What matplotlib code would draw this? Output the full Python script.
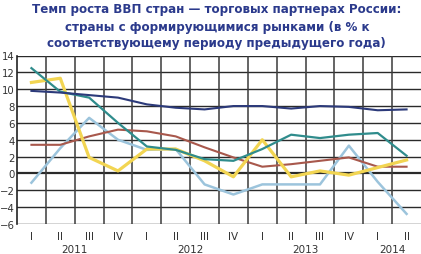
import numpy as np
import matplotlib
matplotlib.use('Agg')
import matplotlib.pyplot as plt
import matplotlib.transforms as mtransforms

quarters = ['I', 'II', 'III', 'IV', 'I', 'II', 'III', 'IV', 'I', 'II', 'III', 'IV', 'I', 'II']
years = ['2011', '2012', '2013', '2014']
year_pos = [1.5, 5.5, 9.5, 12.5]

navy = [9.8, 9.6, 9.3, 9.0, 8.2, 7.8, 7.6, 8.0, 8.0, 7.7, 8.0, 7.9, 7.5, 7.6]
teal = [12.5, 9.7, 9.0, 6.0, 3.2, 2.8, 1.7, 1.5, 2.9, 4.6, 4.2, 4.6, 4.8, 2.1]
yellow = [10.8, 11.3, 1.9, 0.3, 2.9, 2.9, 1.5, -0.4, 4.0, -0.4, 0.3, -0.2, 0.7, 1.6]
brown = [3.4, 3.4, 4.4, 5.2, 5.0, 4.4, 3.1, 1.9, 0.8, 1.1, 1.5, 1.9, 0.8, 0.8]
light = [-1.1, 3.0, 6.6, 4.0, 2.8, 2.9, -1.3, -2.5, -1.3, -1.3, -1.3, 3.3, -1.0, -4.8]

x = np.arange(len(quarters))

fig = plt.figure(figsize=(4.21, 2.55), dpi=100)
ax = fig.add_axes([17 / 421, 30 / 255, 1 - 17 / 421, 168.5 / 255])

# grid
for yv in range(-6, 15, 2):
    ax.axhline(yv, color='#2a2a2a', linewidth=1.6 if yv == 0 else 1.0, zorder=1)
for xv in np.arange(0.5, 13.5, 1):
    ax.axvline(xv, color='#3a3a3a', linewidth=1.1, zorder=1)

ax.plot(x, light, color='#9cc4dc', linewidth=1.8, zorder=3)
ax.plot(x, brown, color='#a8584c', linewidth=1.5, zorder=3)
ax.plot(x, yellow, color='#f2d552', linewidth=2.3, zorder=3)
ax.plot(x, teal, color='#2f8c8c', linewidth=1.6, zorder=4)
ax.plot(x, navy, color='#2c3a7a', linewidth=1.5, zorder=4)

ax.set_xlim(-0.5, 13.5)
ax.set_ylim(-6, 14)
ax.set_yticks(range(-6, 15, 2))
ax.tick_params(axis='y', length=0, pad=1.5, labelsize=7.3, labelcolor='#333333')
ax.set_xticks([])
for s in ['top', 'right', 'bottom']:
    ax.spines[s].set_visible(False)
ax.spines['left'].set_color('#222222')
ax.spines['left'].set_linewidth(1.2)

trans = mtransforms.blended_transform_factory(ax.transData, fig.transFigure)
for i, q in enumerate(quarters):
    ax.text(i, 1 - 237 / 255, q, transform=trans, ha='center', va='center',
            fontsize=7.5, color='#333333')
for p, yr in zip(year_pos, years):
    ax.text(p, 1 - 250 / 255, yr, transform=trans, ha='center', va='center',
            fontsize=7.5, color='#333333')

title_lines = ['Темп роста ВВП стран — торговых партнерах России:',
               'страны с формирующимися рынками (в % к',
               'соответствующему периоду предыдущего года)']
for k, line in enumerate(title_lines):
    fig.text(0.515, 1 - (10 + 17 * k) / 255, line, ha='center', va='center',
             fontsize=8.6, fontweight='bold', color='#2b3a8c')

fig.savefig('out.png', dpi=100)
